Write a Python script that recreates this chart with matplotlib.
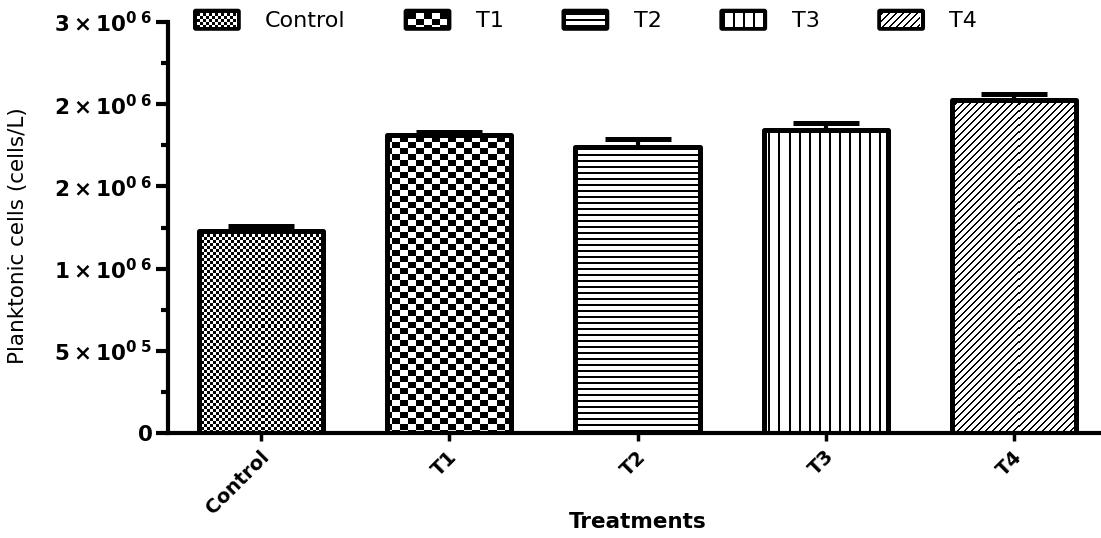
import matplotlib.pyplot as plt
import numpy as np
from matplotlib.patches import Rectangle, FancyBboxPatch
from matplotlib.legend_handler import HandlerBase
from matplotlib.transforms import ScaledTranslation
from matplotlib.ticker import MultipleLocator

categories = ["Control", "T1", "T2", "T3", "T4"]
means = [1.229e6, 1.811e6, 1.738e6, 1.841e6, 2.024e6]
errors = [0.033e6, 0.018e6, 0.049e6, 0.043e6, 0.037e6]
fills = ["fine_checker", "checker", "hlines", "vlines", "diag"]
ytick_values = [0, 5e5, 1e6, 1.5e6, 2e6, 2.5e6]
ytick_labels = [r"$\mathbf{0}$",
                r"$\mathbf{5\times10^{0\ 5}}$",
                r"$\mathbf{1\times10^{0\ 6}}$",
                r"$\mathbf{2\times10^{0\ 6}}$",
                r"$\mathbf{2\times10^{0\ 6}}$",
                r"$\mathbf{3\times10^{0\ 6}}$"]

DPI = 100
FIG_W, FIG_H = 1101, 538

plt.rcParams["mathtext.fontset"] = "dejavusans"


def pattern(name, rows, cols):
    # True = black pixel; sizes in screen pixels
    r, c = np.mgrid[0:rows, 0:cols]
    if name == "fine_checker":
        return (r // 3 + c // 3) % 2 == 0
    if name == "checker":
        return (r // 6 + c // 8) % 2 == 0
    if name == "hlines":
        return r % 6 < 2
    if name == "vlines":
        return c % 10 < 2
    return (r + c) % 7 < 2


class PatternHandler(HandlerBase):
    def __init__(self, name):
        super().__init__()
        self.name = name

    def legend_artist(self, legend, orig_handle, fontsize, handlebox):
        x0, y0 = -handlebox.xdescent, -handlebox.ydescent
        w, h = handlebox.width, handlebox.height
        tr = handlebox.get_transform()
        px = 72 / DPI
        outer = FancyBboxPatch((x0, y0), w, h, boxstyle="round,pad=0,rounding_size=2",
                               fc="black", ec="none", transform=tr)
        handlebox.add_artist(outer)
        b = 4 * px
        iw, ih = w - 2 * b, h - 2 * b
        handlebox.add_artist(Rectangle((x0 + b, y0 + b), iw, ih, fc="white", ec="none", transform=tr))
        rows, cols = int(ih / px), int(iw / px)
        mask = pattern(self.name, rows, cols)
        top = y0 + b + ih
        for i in range(rows):
            row = mask[i]
            j = 0
            while j < cols:
                if row[j]:
                    k = j
                    while k < cols and row[k]:
                        k += 1
                    handlebox.add_artist(Rectangle((x0 + b + j * px, top - (i + 1) * px),
                                                   (k - j) * px, px, fc="black", ec="none",
                                                   lw=0, transform=tr))
                    j = k
                else:
                    j += 1
        return outer


fig = plt.figure(figsize=(FIG_W / DPI, FIG_H / DPI), dpi=DPI)
left, bottom, top = 168 / FIG_W, 1 - 433 / FIG_H, 1 - 22 / FIG_H
ax = fig.add_axes([left, bottom, 1 - left, top - bottom])

x = np.arange(len(categories))
xlim = (-0.494, 4.462)
ylim = (0, 2.5e6)
ax.set_xlim(xlim)
ax.set_ylim(ylim)

bars = ax.bar(x, means, width=0.66, facecolor="none", edgecolor="black",
              linewidth=3.6, zorder=3)

# pattern fills, built at screen resolution and clipped to each bar
axw = int(round(FIG_W * (1 - left)))
axh = int(round(FIG_H * (top - bottom)))
for bar, name in zip(bars, fills):
    bar.set_joinstyle("round")
    img = np.where(pattern(name, axh, axw), 0.0, 1.0)
    im = ax.imshow(img, cmap="gray", vmin=0, vmax=1, extent=(*xlim, *ylim),
                   aspect="auto", interpolation="nearest", zorder=2)
    im.set_clip_path(bar)

eb = ax.errorbar(x, means, yerr=[np.zeros(len(errors)), errors], fmt="none",
                 ecolor="black", elinewidth=3, capsize=24, capthick=3.6, zorder=4)
for cl in eb[1]:
    cl.set_solid_capstyle("round")

ax.set_xlim(xlim)
ax.set_ylim(ylim)

for s in ["top", "right"]:
    ax.spines[s].set_visible(False)
for s in ["left", "bottom"]:
    ax.spines[s].set_linewidth(3)

ax.set_yticks(ytick_values)
ax.set_yticklabels(ytick_labels, fontsize=15.5)
ax.yaxis.set_minor_locator(MultipleLocator(2.5e5))
ax.tick_params(axis="y", which="major", length=9, width=3, pad=2)
ax.tick_params(axis="y", which="minor", length=5, width=3)

ax.set_xticks(x)
ax.set_xticklabels(categories, rotation=45, ha="right", fontsize=14, fontweight="bold")
ax.tick_params(axis="x", length=6, width=2.5, pad=4)
offset = ScaledTranslation(12 / DPI, 0, fig.dpi_scale_trans)
for lab in ax.get_xticklabels():
    lab.set_transform(lab.get_transform() + offset)

fig.text(18 / FIG_W, 1 - 236 / FIG_H, "Planktonic cells (cells/L)", rotation=90,
         ha="center", va="center", fontsize=15.5)
fig.text(638 / FIG_W, 1 - 522 / FIG_H, "Treatments", ha="center", va="center",
         fontsize=15.5, fontweight="bold")

handles = [Rectangle((0, 0), 1, 1) for _ in categories]
ax.legend(handles, categories,
          handler_map={h: PatternHandler(n) for h, n in zip(handles, fills)},
          ncol=5, loc="center left", bbox_to_anchor=(193 / FIG_W, 1 - 20 / FIG_H),
          bbox_transform=fig.transFigure, frameon=False, fontsize=16,
          handlelength=2.15, handleheight=1.15, handletextpad=1.1, columnspacing=2.6,
          borderpad=0, borderaxespad=0)

fig.savefig("out.png", dpi=DPI)
